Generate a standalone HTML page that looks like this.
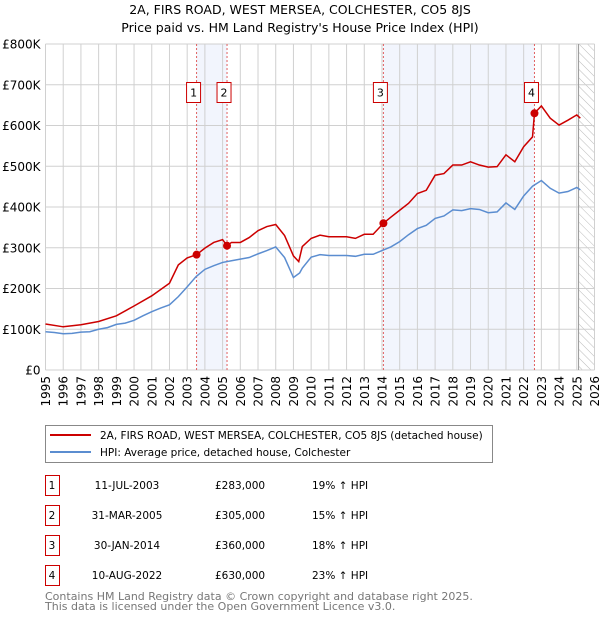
<!DOCTYPE html>
<html><head><meta charset="utf-8"><style>
body{margin:0;background:#fff;font-family:"Liberation Sans","DejaVu Sans",sans-serif;}
svg text{font-family:"DejaVu Sans","Liberation Sans",sans-serif;}
</style></head><body>
<svg width="600" height="620" viewBox="0 0 600 620" xmlns="http://www.w3.org/2000/svg">
<defs><pattern id="hatch" width="6" height="6" patternUnits="userSpaceOnUse" patternTransform="rotate(-45)"><line x1="0" y1="0" x2="0" y2="6" stroke="#bbb" stroke-width="1"/></pattern></defs>
<text x="300" y="14" text-anchor="middle" font-size="12.5">2A, FIRS ROAD, WEST MERSEA, COLCHESTER, CO5 8JS</text>
<text x="300" y="32" text-anchor="middle" font-size="12.5">Price paid vs. HM Land Registry's House Price Index (HPI)</text>
<g id="plot"></g>
<g>
<rect x="45.5" y="425.5" width="447" height="37" fill="#fff" stroke="#888"/>
<line x1="50" y1="435" x2="91" y2="435" stroke="#cc0000" stroke-width="2"/>
<text x="100" y="439" font-size="10.5">2A, FIRS ROAD, WEST MERSEA, COLCHESTER, CO5 8JS (detached house)</text>
<line x1="50" y1="452" x2="91" y2="452" stroke="#5b8dd0" stroke-width="2"/>
<text x="100" y="456" font-size="10.5">HPI: Average price, detached house, Colchester</text>
</g>
<g id="table" font-size="10.5"></g>
<text x="45" y="600" font-size="11" fill="#777">Contains HM Land Registry data © Crown copyright and database right 2025.</text>
<text x="45" y="610" font-size="11" fill="#777">This data is licensed under the Open Government Licence v3.0.</text>
</svg>
<script>
const hpiYears=[1995,1995.5,1996,1996.5,1997,1997.5,1998,1998.5,1999,1999.5,2000,2000.5,2001,2001.5,2002,2002.5,2003,2003.5,2004,2004.5,2005,2005.5,2006,2006.5,2007,2007.5,2008,2008.5,2009,2009.35,2009.5,2010,2010.5,2011,2011.5,2012,2012.5,2013,2013.5,2014,2014.5,2015,2015.5,2016,2016.5,2017,2017.5,2018,2018.5,2019,2019.5,2020,2020.5,2021,2021.5,2022,2022.5,2023,2023.5,2024,2024.5,2025,2025.2];
const hpiValues=[94,92,89,90,93,94,100,104,112,115,122,133,143,152,160,180,204,229,247,256,264,268,272,276,285,293,302,276,227,238,250,277,283,281,281,281,279,284,284,293,302,315,332,347,355,372,378,393,391,396,394,386,388,410,394,427,451,465,446,434,438,448,442];
const priceYears=[1995,1996,1997,1998,1999,2000,2001,2002,2002.5,2003,2003.53,2004,2004.5,2005,2005.25,2005.5,2006,2006.5,2007,2007.5,2008,2008.5,2009,2009.3,2009.5,2010,2010.5,2011,2012,2012.5,2013,2013.5,2014.08,2014.5,2015,2015.5,2016,2016.5,2017,2017.5,2018,2018.5,2019,2019.5,2020,2020.5,2021,2021.5,2022,2022.5,2022.61,2023,2023.5,2024,2024.5,2025,2025.2];
const priceValues=[113,106,111,119,133,157,182,213,258,275,283,299,313,320,305,313,313,325,342,352,357,330,280,266,303,323,331,327,327,323,333,333,360,375,392,409,433,441,478,482,503,503,511,503,498,499,528,511,548,572,630,648,618,601,613,626,618];
const saleYears=[2003.53,2005.25,2014.08,2022.61];
const saleValues=[283,305,360,630];
const saleLabels=["1","2","3","4"];
const saleDates=["11-JUL-2003","31-MAR-2005","30-JAN-2014","10-AUG-2022"];
const salePrices=["£283,000","£305,000","£360,000","£630,000"];
const saleHpi=["19% ↑ HPI","15% ↑ HPI","18% ↑ HPI","23% ↑ HPI"];
const yTicks=[0,100,200,300,400,500,600,700,800];
const yTickLabels=["£0","£100K","£200K","£300K","£400K","£500K","£600K","£700K","£800K"];
const xTicks=[1995,1996,1997,1998,1999,2000,2001,2002,2003,2004,2005,2006,2007,2008,2009,2010,2011,2012,2013,2014,2015,2016,2017,2018,2019,2020,2021,2022,2023,2024,2025,2026];

const NS="http://www.w3.org/2000/svg";
const X0=45.5,X1=594.5,Y0=370,Y1=44;
const xs=y=>X0+(y-1995)*(X1-X0)/31;
const ys=v=>Y0-v*(Y0-Y1)/800;
const plot=document.getElementById('plot');
function mk(tag,attrs,parent){const e=document.createElementNS(NS,tag);for(const k in attrs)e.setAttribute(k,attrs[k]);(parent||plot).appendChild(e);return e;}
for(const [a,b] of [[0,1],[2,3]]){
 const r=mk('rect',{x:xs(saleYears[a]),y:Y1,width:xs(saleYears[b])-xs(saleYears[a]),height:Y0-Y1,fill:'#f2f5fd'});
 
 
}
const h=mk('rect',{x:xs(2025.1),y:Y1,width:X1-xs(2025.1),height:Y0-Y1,fill:'url(#hatch)'});


xTicks.forEach(t=>{
 const l=mk('line',{x1:xs(t),x2:xs(t),y1:Y1,y2:Y0,stroke:'#d0d0d0','stroke-width':1});
 
 
 const tx=mk('text',{x:0,y:0,'font-size':12,'text-anchor':'end',transform:`translate(${xs(t)+4.5},${Y0+6}) rotate(-90)`});
 tx.textContent=t;
 
 
});
yTicks.forEach((t,i)=>{
 const l=mk('line',{x1:X0,x2:X1,y1:ys(t),y2:ys(t),stroke:'#d0d0d0','stroke-width':1});
 
 
 const tx=mk('text',{x:X0-5,y:ys(t)+4.5,'font-size':12,'text-anchor':'end'});
 tx.textContent=yTickLabels[i];
 
 
});
const ed=mk('line',{x1:xs(2025.1),x2:xs(2025.1),y1:Y1,y2:Y0,stroke:'#999','stroke-width':1});


saleYears.forEach(s=>{
 const l=mk('line',{x1:xs(s),x2:xs(s),y1:Y1,y2:Y0,stroke:'#e06060','stroke-width':1,'stroke-dasharray':'2,2'});
 
 
});
const hp=mk('polyline',{points:hpiYears.map((y,i)=>xs(y)+','+ys(hpiValues[i])).join(' '),fill:'none',stroke:'#5b8dd0','stroke-width':1.5});


const pp=mk('polyline',{points:priceYears.map((y,i)=>xs(y)+','+ys(priceValues[i])).join(' '),fill:'none',stroke:'#cc0000','stroke-width':1.5});


saleYears.forEach((s,i)=>{
 const c=mk('circle',{cx:xs(s),cy:ys(saleValues[i]),r:4,fill:'#cc0000'});
 
 
 const bx=xs(s)-10;
 const b=mk('rect',{x:bx,y:82.5,width:14,height:20,fill:'#fff',stroke:'#cc0000'});
 
 
 const t=mk('text',{x:bx+7,y:96.5,'font-size':11,'text-anchor':'middle'});
 t.textContent=saleLabels[i];
 
 
});
const tb=document.getElementById('table');
saleLabels.forEach((lab,i)=>{
 const y=475+i*30;
 const b=mk('rect',{x:45.5,y:y+0.5,width:14,height:20,fill:'#fff',stroke:'#cc0000'},tb);
 
 
 const vals=[[52,lab,'middle'],[127,saleDates[i],'middle'],[215,salePrices[i],'start'],[312,saleHpi[i],'start']];
 vals.forEach(([x,txt,a],j)=>{
  const t=mk('text',{x:x,y:y+14,'text-anchor':a},tb);
  t.textContent=txt;
  
  
 });
});
</script>
</body></html>
